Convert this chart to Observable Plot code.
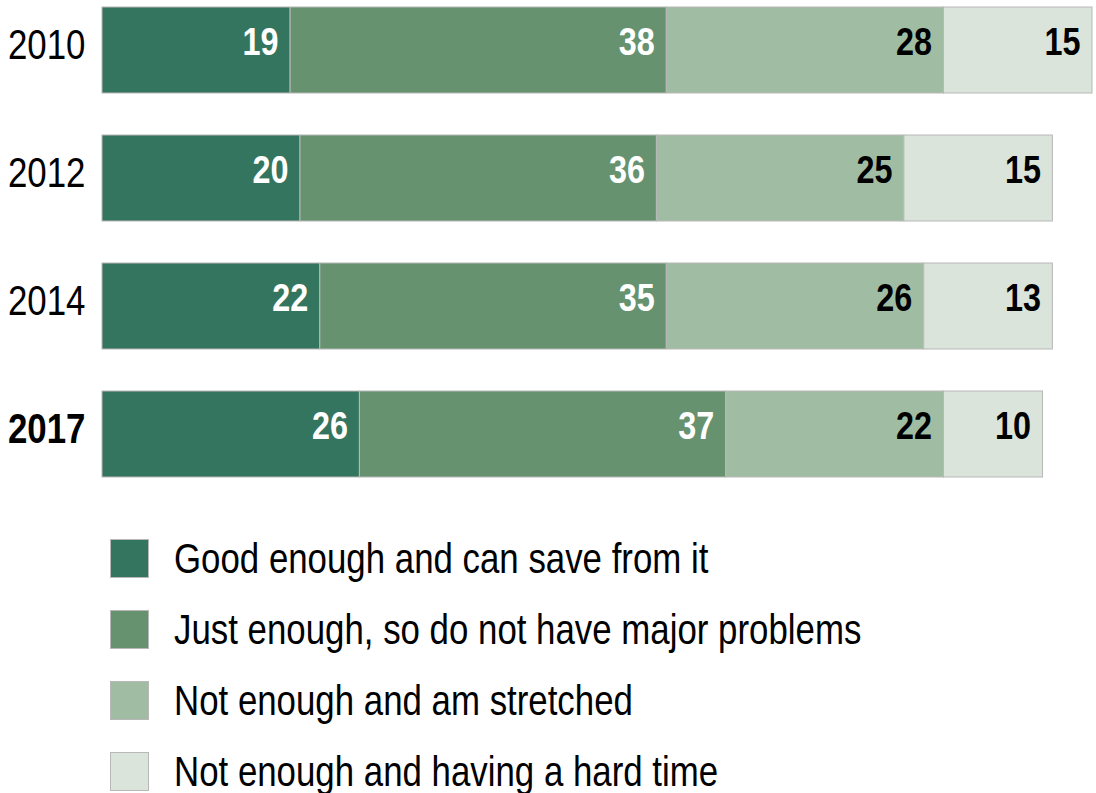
<!DOCTYPE html>
<html>
<head>
<meta charset="utf-8">
<script src="https://cdn.jsdelivr.net/npm/d3@7"></script>
<script src="https://cdn.jsdelivr.net/npm/@observablehq/plot@0.6"></script>
<style>
  body { margin: 0; background: #fff; font-family: "Liberation Sans", Arial, sans-serif; }
  #legend { margin-top: 23px; margin-left: 110px; }
  .row { display: flex; align-items: center; height: 71px; }
  .sw { width: 39px; height: 39px; box-sizing: border-box; border: 1px solid #b8b8b8; flex: none; }
  .lab { margin-left: 25px; font-size: 43px; color: #000; white-space: nowrap; display: inline-block; transform: scaleX(0.81); transform-origin: left center; }
</style>
</head>
<body>
<div id="chart"></div>
<div id="legend"></div>
<script>
const years = ["2010", "2012", "2014", "2017"];
const categories = [
  "Good enough and can save from it",
  "Just enough, so do not have major problems",
  "Not enough and am stretched",
  "Not enough and having a hard time"
];
const good = [19, 20, 22, 26];
const justEnough = [38, 36, 35, 37];
const stretched = [28, 25, 26, 22];
const hard = [15, 15, 13, 10];
const colors = ["#347560", "#66926f", "#a0bda3", "#dae4da"];
const labelColors = ["#ffffff", "#ffffff", "#000000", "#000000"];

const series = [good, justEnough, stretched, hard];
const data = [];
years.forEach((y, i) => {
  series.forEach((s, k) => {
    data.push({year: y, cat: categories[k], value: s[i], k});
  });
});

const font = '"Liberation Sans", Arial, sans-serif';

const chart = Plot.plot({
  width: 1096,
  height: 500,
  marginLeft: 102,
  marginRight: 4,
  marginTop: 6,
  marginBottom: 22,
  style: {fontFamily: font, background: "#fff", overflow: "visible"},
  x: {domain: [0, 100], axis: null},
  y: {domain: years, axis: null, paddingInner: 0.33, paddingOuter: 0},
  color: {domain: categories, range: colors},
  marks: [
    Plot.barX(data, Plot.stackX({x: "value", y: "year", order: categories, fill: "cat", stroke: "#b8b8b8", strokeWidth: 1})),
    Plot.text(data, Plot.stackX2({
      x: "value", y: "year", order: categories, z: "cat",
      text: d => String(d.value),
      fill: d => labelColors[d.k],
      textAnchor: "end", dx: -12, dy: -8, fontSize: 39, fontWeight: "bold"
    })),
    Plot.text(years.filter(y => y !== "2017"), {x: () => 0, y: d => d, text: d => d, textAnchor: "end", dx: -17, dy: -5, fontSize: 42, fill: "#000"}),
    Plot.text(["2017"], {x: () => 0, y: d => d, text: d => d, textAnchor: "end", dx: -17, dy: -5, fontSize: 42, fontWeight: "bold", fill: "#000"})
  ]
});

// condense the text horizontally (narrow font look)
d3.select(chart).selectAll("text").each(function () {
  const t = this.getAttribute("transform");
  if (t) {
    this.setAttribute("transform", t + " scale(0.83,1)");
  } else {
    const x = +this.getAttribute("x") || 0, y = +this.getAttribute("y") || 0;
    this.setAttribute("transform", `translate(${x},${y}) scale(0.83,1) translate(${-x},${-y})`);
  }
});

document.getElementById("chart").appendChild(chart);

const legend = d3.select("#legend");
categories.forEach((c, i) => {
  const row = legend.append("div").attr("class", "row");
  row.append("div").attr("class", "sw").style("background", colors[i]);
  row.append("div").attr("class", "lab").text(c);
});
</script>
</body>
</html>
